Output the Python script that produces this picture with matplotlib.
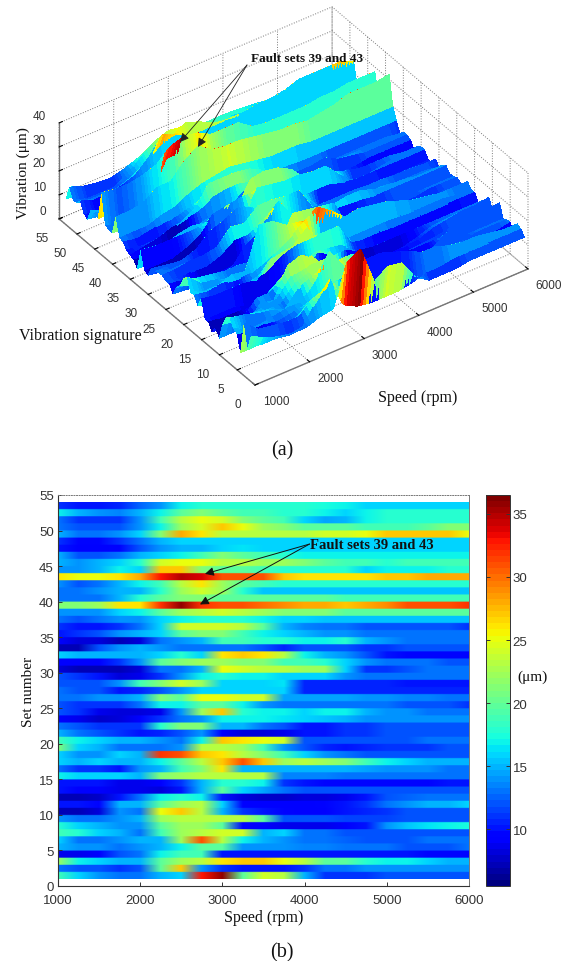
import numpy as np
import matplotlib
matplotlib.use("Agg")
import matplotlib.pyplot as plt
from mpl_toolkits.mplot3d import proj3d

W, H = 575, 962
SERIF = "Liberation Serif"
SANS = "Liberation Sans"

speeds = [1000,1250,1500,1750,2000,2250,2500,2750,3000,3250,3500,3750,4000,4250,4500,4750,5000,5250,5500,5750,6000]
set_tick_values = [0,5,10,15,20,25,30,35,40,45,50,55]
speed_tick_values = [1000,2000,3000,4000,5000,6000]
z_tick_values = [0,10,20,30,40]
colorbar_ticks = [10,15,20,25,30,35]

# one row per set, listed from set 53 (top) down to set 1; values in micrometres
vibration = [
[11,10,10,10.5,12.5,14,17,18,18,18,18,18,18,17.5,17,16,16,16,16,16,16],
[17,15,14,13.5,15,17,20,21,20,19,19,18,18,17,16,17,18,18,18,18,18],
[13,11,11,11,14,19,23,25,24,21,20,19,16,14.5,15,17,18,18,18,18,18],
[13,12,12,12,14,17,22,24,27,25,22,21,20,20,20,19,19,19,20,21,21],
[15,13,13,14,16,21,28,26,23,23,23,23,23,24,24,25,27,27,27,27,25],
[11,9.5,9.5,11,13,15,16,16,16,16,16,16,16,16,16,16,16,16,16,16,16],
[10,9,9,9.5,12,14,15,15,16,16.5,16,16,16,16,16,16,16,16,16,16,16],
[15,12,12,13,15,16,17,19,21,20,19,18,17,17,17,17,17,17,17,17,17],
[15,14,15,16,18,24,25,25,23,23,22,22,21,20,19,19,18,19,19,19,19],
[14,14,15,17,16,27,27,21,20,20,19,18,18,18,18,16,17,17,17,18,18],
[26,25,25,26,28,33,35,34,31,31,31,27,26,26,26,26,27,27,28,28,28],
[14,12,13,15,17,19,23,26,22,20,19,18,18,18,18,18,18,18,18,18,18],
[13,13,14,15,15,18,22,24,22,18,15.5,15.5,15.5,15.5,15.5,15.5,15.5,15.5,15.5,15.5,15.5],
[13,13,13,15,18,20,21,21,20,20,20,20,20,20,19,19,19,19,19,19,19],
[21,21,22,26,26,32,36,32,31,31,30,29,28,28,27,28,29,31,31,31,32],
[14,14,14,16,17,20,22,23,24,23,22,21,21,21,20,20,20,20,20,20,20],
[13,12,13,14,14,16,17,18,18,18,17,16,16,15.5,15.5,15.5,15.5,15.5,15.5,15.5,15.5],
[11,10,10,11,13,16,24,24,24,23,20,15,13.5,13,13,12,12,12,12,12,11],
[10,11,12,14,15,16,20,21,21,19,17,16,15,14,14,13,13,13,13,13,13],
[9.5,8,8,7,8,13,14,15,19,19,18,18,17,17,18,15,14,13,13,13,13],
[7,7,12,14,15,14,13,13,13,13,12,10.5,12,12,12,11,11,12,12,12,12],
[16,15,15,15,15,16,18,16,26,27,26,23,17,15,14,12,10,9.5,9.5,9.5,9.5],
[9,9,9,11,14,20,21,22,22,21,21,19,19,18,16,14,13,13,13,12,12],
[8,7,7,7,8,13,13,15,25,24,23,23,22,22,16,11,11,12,13,13,13],
[12,11,10,8,8.5,11,14,17,18,17,17,16,16,16,14,13,13,13,13,13,13],
[12,12,12,14,19,21,24,22,16,16,16,16.5,10.5,10.5,10.5,10.5,10.5,10,10,10,10],
[13,12,12,10,10.5,12,14,16,16,16,16,16,10.5,10.5,10.5,10.5,10.5,10.5,10.5,10.5,10.5],
[13,13,14,14,15,21,20,25,25,24,24,14.5,14.5,14.5,14.5,14,14,13.5,13.5,13,13],
[12,11,11,11,13,17,17,20,20,17,14,13,13,13,13,13,13,12,12,12,11],
[12,11,8.5,8,8,8.5,14,22,27,18,17,17,16,17,17,15,14,14,13,13,13],
[9,8.5,7.5,8,9.5,11,13,14,17,17,17,16.5,16,15.5,15,14,14,14,14,14,14],
[13,12,11,11,11,18,21,21,15,15,13,12,10,10,11,11,12,12,12,12,12],
[15,13,12,11,10,10.5,12,14,9,8,8,8.5,10,10,11,11,12,12,12,12,12],
[19,17,16,15,15,14,13,17,27,26,25,24,12,12,12,12,12,12,13,13,13],
[21,16,15,13,13,13,14,23,23,22,19,14,12,10.5,10,10.5,11,11,11,12,12],
[16,14,14,16,15,32,31,27,26,23,21,19,16,14,13,12,12,12,12,12,12],
[16,15,16,15,15,17,20,23,27,31,27,22,23,22,21,19,17,16,15,15,15],
[13,11,11,10,14,15,19,21,26,15,15,15,15,15,15,14.5,14,14,14,13,13],
[17,16,16,16,15,21,22,23,23,23,23,13.5,13.5,13.5,13,13,13,13,13,13,13],
[10,10,10,8.5,8.5,9,11,15,18,18,17,11,10,9.5,9.5,9.5,9.5,9.5,9.5,10,10],
[10,9,9,8.5,8.5,8,10,15,20,16,14.5,13,12,12,12,12,12,12,12,12,12],
[7,7,7.5,10,13,17,18,17,10,8,7.5,7.5,8,8,8.5,10,12,12.5,13,13,13],
[10,10,9.5,15,15,20,22,23,16,9,9,9,9,9.5,10,11,13,14,15,15,16],
[7,7,8,14,13,25,27,23,15,11,10,9.5,9,9,10,10.5,11,12,12,12,12],
[14,13,13,14,15,22,23,23,23,23,20,12,12,12,11.5,11.5,11.5,12,12,12,12],
[18,16,15,14,14,20,22,22,20,9.5,9,8.5,8.5,8.5,9,10,14,15.5,16.5,17,17.5],
[19,18,16,15,13,19,22,23,24,24,15,16,13,13,12,12,12,12,12,12,12],
[16,13,13,14,15,15,22,31,23,17,15,14,13,13,12.5,12,12,12,13,13,13],
[15,14,14,13,14,15,17,20,20,14,14,14,13.5,13.5,13,13,13,12,12,12,13],
[8.5,8.5,9,12,13,17,19,19,10,10,10,10,10,10,10,10,10,10,9.5,9.5,9.5],
[22,17,16,15,15,20,22,23,26,27,27,25,23,20,20,18,17,17,16,15,15],
[13,12,12,11,12,20,27,14,11,10,10,10,11,13,13,14,14,14,14,14,14],
[19,16,14,13,13,15,16,33,36,20,24,23,15,11,11,11,12,12,12,12,12],
]
set_numbers = list(range(53, 0, -1))

Z = np.array(vibration, dtype=float)[::-1]
sets = np.array(set_numbers[::-1], dtype=float)
X_vals = np.array(speeds, dtype=float)
VMIN, VMAX = 5.5, 36.5
cmap = plt.get_cmap("jet", 64)
norm = plt.Normalize(VMIN, VMAX)

fig = plt.figure(figsize=(W/100, H/100), dpi=100, facecolor="white")

def px_rect(l, t, r, b):
    return [l/W, 1-b/H, (r-l)/W, (b-t)/H]

# ---------- (a) surface ----------
ax3 = fig.add_axes([0.1, 0.55, 0.8, 0.4], projection="3d", proj_type="ortho")
ax3.patch.set_alpha(0)
ax3.set_box_aspect((334.5, 339, 120))
ax3.view_init(elev=36.9, azim=-125.3)
ax3.set_xlim(1000, 6000)
ax3.set_ylim(0, 55)
ax3.set_zlim(0, 40)

# mplot3d has no per-vertex colouring, so facets are split along the speed axis to
# shade across them; the surface stays the piecewise-linear one through the values above.
# Each band takes the colour of its lower set, as a flat-shaded MATLAB surface does.
SPLIT = 5
fine_pos = np.linspace(0, len(speeds)-1, (len(speeds)-1)*SPLIT+1)
fine_x = np.interp(fine_pos, np.arange(len(speeds)), X_vals)
fine_z = np.array([np.interp(fine_x, X_vals, row) for row in Z])
XX, YY = np.meshgrid(fine_x, sets)
ax3.plot_surface(XX, YY, fine_z, facecolors=cmap(norm(fine_z)), rstride=1, cstride=1,
                 linewidth=0, antialiased=False, shade=False)
ax3.set_xticks(speed_tick_values)
ax3.set_yticks(set_tick_values)
ax3.set_zticks(z_tick_values)
for axis in (ax3.xaxis, ax3.yaxis, ax3.zaxis):
    axis.set_pane_color((1, 1, 1, 0))
    axis.pane.set_edgecolor((1, 1, 1, 0))
    axis.line.set_color("#777777")
    axis.line.set_linewidth(1.0)
    axis._axinfo["grid"].update(color="#777777", linestyle=":", linewidth=0.7)
    axis._axinfo["tick"]["inward_factor"] = 0.0
    axis._axinfo["tick"]["outward_factor"] = 0.15
    axis._axinfo["tick"]["color"] = "#555555"
ax3.tick_params(labelsize=8.5, labelcolor="#333333", pad=-1)
ax3.tick_params(axis="y", pad=3)
ax3.tick_params(axis="z", pad=-3)
for lab in ax3.get_xticklabels()+ax3.get_yticklabels()+ax3.get_zticklabels():
    lab.set_fontfamily(SANS)
for lab in ax3.get_xticklabels():
    lab.set_ha("left")
for lab in ax3.get_zticklabels():
    lab.set_va("bottom")
    lab.set_ha("right")

# fit the orthographic box onto its pixel position in the reference
M = ax3.get_proj()
def view(x, y, z):
    vx, vy, _ = proj3d.proj_transform(x, y, z, M)
    return float(vx), float(vy)
fx, fy = view(1000, 0, 0)
rx, ry = view(6000, 0, 0)
front_px, right_px = (255.0, 386.0), (528.0, 270.0)
s = (right_px[0]-front_px[0])/(rx-fx)
xl, yl = ax3.viewLim.intervalx, ax3.viewLim.intervaly
S = s*(xl[1]-xl[0])
X0 = front_px[0]-s*(fx-xl[0])
Y0 = (H-front_px[1])-s*(fy-yl[0])
ax3.set_position([X0/W, Y0/H, S/W, s*(yl[1]-yl[0])/H])

# ---------- (b) heat map ----------
ax = fig.add_axes(px_rect(58, 496, 469, 887))
ax.imshow(np.repeat(Z, 12, axis=0), cmap=cmap, norm=norm, aspect="auto", origin="lower",
          extent=[875, 6125, 1, 54], interpolation="bilinear")
ax.set_xlim(1000, 6000)
ax.set_ylim(0, 55)
ax.set_xticks(speed_tick_values)
ax.set_yticks(set_tick_values)
ax.tick_params(direction="in", length=3, width=0.7, color="#333333", labelcolor="#333333",
               labelsize=9.5, pad=3)
ax.tick_params(axis="x", pad=6)
for lab in ax.get_xticklabels()+ax.get_yticklabels():
    lab.set_fontfamily(SANS)
for sp in ("left", "bottom"):
    ax.spines[sp].set_color("#333333")
    ax.spines[sp].set_linewidth(0.8)
for sp in ("top", "right"):
    ax.spines[sp].set_color("#777777")
    ax.spines[sp].set_linewidth(0.7)
ax.spines["top"].set_linestyle(":")
ax.set_xlabel("Speed (rpm)", family=SERIF, fontsize=11.5, color="#111111", labelpad=2)
ax.set_ylabel("Set number", family=SERIF, fontsize=11, color="#111111", labelpad=3)
for xy in ((2788, 43.9), (2727, 39.6)):
    ax.annotate("", xy=xy, xytext=(4060, 48.1),
                arrowprops=dict(arrowstyle="-|>", color="#111111", lw=0.7,
                                mutation_scale=13, shrinkA=0, shrinkB=0))
ax.text(4066, 48, "Fault sets 39 and 43", family=SERIF, fontsize=10.5, fontweight="bold",
        va="center", ha="left", color="#111111")

# ---------- colour bar ----------
cax = fig.add_axes(px_rect(486, 496, 510, 887))
cb = fig.colorbar(plt.cm.ScalarMappable(norm=norm, cmap=cmap), cax=cax, ticks=colorbar_ticks)
cb.outline.set_edgecolor("#333333")
cb.outline.set_linewidth(0.7)
cax.tick_params(direction="in", length=3, width=0.7, color="#333333", labelcolor="#333333",
                labelsize=9.5, pad=2, left=True, right=True)
for lab in cax.get_yticklabels():
    lab.set_fontfamily(SANS)

# ---------- overlay: labels placed in figure pixels ----------
ov = fig.add_axes([0, 0, 1, 1], zorder=10)
ov.set_xlim(0, W)
ov.set_ylim(H, 0)
ov.axis("off")
ov.patch.set_alpha(0)
ov.text(533, 677, "(\u03bcm)", family=SERIF, fontsize=11, ha="center", va="center", color="#111111")
ov.text(282, 451, "(a)", family=SERIF, fontsize=14.5, ha="center", va="center", color="#111111")
ov.text(282, 953, "(b)", family=SERIF, fontsize=14.5, ha="center", va="center", color="#111111")
ov.text(23, 173, "Vibration (\u03bcm)", family=SERIF, fontsize=11, rotation=90, ha="center", va="center", color="#111111")
ov.text(80, 336, "Vibration signature", family=SERIF, fontsize=11.5, ha="center", va="center", color="#111111")
ov.text(418, 398, "Speed (rpm)", family=SERIF, fontsize=11.5, ha="center", va="center", color="#111111")
ov.text(307, 59, "Fault sets 39 and 43", family=SERIF, fontsize=9.5, fontweight="bold", ha="center", va="center", color="#111111")
for tip in ((180, 143), (198, 148)):
    ov.annotate("", xy=tip, xytext=(247, 66),
                arrowprops=dict(arrowstyle="-|>", color="#222222", lw=0.6,
                                mutation_scale=13, shrinkA=0, shrinkB=0))

fig.savefig("out.png", dpi=100)
